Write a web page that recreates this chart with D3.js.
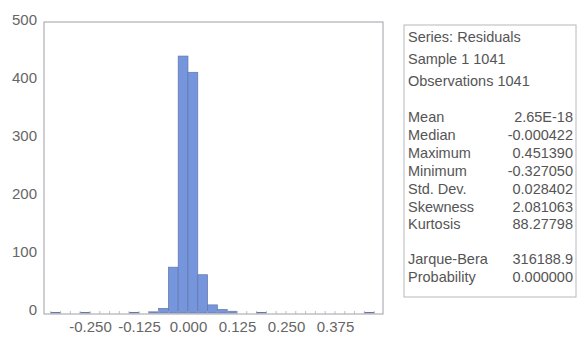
<!DOCTYPE html>
<html>
<head>
<meta charset="utf-8">
<script src="https://cdn.jsdelivr.net/npm/d3@7"></script>
<style>
  body { margin: 0; background: #fff; }
  svg { display: block; }
  text { font-family: "Liberation Sans", Arial, sans-serif; }
</style>
</head>
<body>
<svg id="chart" width="578" height="341"></svg>
<script>
// Histogram of residuals: left edge of each bin (width 0.025) and its count
const binStarts = [-0.350, -0.275, -0.150, -0.100, -0.075, -0.050, -0.025, 0.000, 0.025, 0.050, 0.075, 0.100, 0.175, 0.450];
const binCounts = [1, 1, 1, 2, 8, 79, 443, 415, 66, 14, 6, 3, 1, 1];
const binWidth = 0.025;

const xTicks = [-0.250, -0.125, 0.000, 0.125, 0.250, 0.375];
const yTicks = [0, 100, 200, 300, 400, 500];

// Summary statistics panel
const statHeader = ["Series: Residuals", "Sample 1 1041", "Observations 1041"];
const statNames = ["Mean", "Median", "Maximum", "Minimum", "Std. Dev.", "Skewness", "Kurtosis"];
const statValues = ["2.65E-18", "-0.000422", "0.451390", "-0.327050", "0.028402", "2.081063", "88.27798"];
const testNames = ["Jarque-Bera", "Probability"];
const testValues = ["316188.9", "0.000000"];

const svg = d3.select("#chart");
const plot = { left: 44, right: 383, top: 22, bottom: 314 };

const x = d3.scaleLinear().domain([-0.3673, 0.4975]).range([plot.left, plot.right]);
const y = d3.scaleLinear().domain([0, 500]).range([313, 23]);

// Bars
const bars = binStarts.map((s, i) => ({ x0: s, x1: s + binWidth, n: binCounts[i] }));
svg.append("g").selectAll("rect").data(bars).join("rect")
  .attr("x", d => x(d.x0))
  .attr("y", d => y(d.n))
  .attr("width", d => x(d.x1) - x(d.x0))
  .attr("height", d => y(0) - y(d.n))
  .attr("fill", "#7595dc")
  .attr("stroke", "#6676a6")
  .attr("stroke-width", 0.7);

// Frame
svg.append("rect")
  .attr("x", plot.left).attr("y", plot.top)
  .attr("width", plot.right - plot.left).attr("height", plot.bottom - plot.top)
  .attr("fill", "none").attr("stroke", "#a0a0a8").attr("stroke-width", 1);

// Y axis labels
const yAxis = d3.axisLeft(y).tickValues(yTicks).tickSize(0).tickPadding(7).tickFormat(d3.format("d"));
const gy = svg.append("g").attr("transform", `translate(${plot.left},0)`).call(yAxis);
gy.select(".domain").remove();
gy.selectAll("text").attr("font-size", 15).attr("fill", "#666").attr("dy", "0.1em")
  .attr("font-family", "'Liberation Sans', Arial, sans-serif");

// X axis labels (plain hyphen for negatives) with minor ticks every bin width
const fmt3 = d3.format(".3f");
const xAxis = d3.axisBottom(x).tickValues(xTicks).tickSize(0).tickPadding(7)
  .tickFormat(d => fmt3(d).replace("\u2212", "-"));
const gx = svg.append("g").attr("transform", `translate(0,${plot.bottom})`).call(xAxis);
gx.select(".domain").remove();
gx.selectAll("text").attr("font-size", 15).attr("fill", "#666")
  .attr("font-family", "'Liberation Sans', Arial, sans-serif");

const minor = d3.range(-14, 20).map(k => k * binWidth).filter(v => x(v) > plot.left + 1 && x(v) < plot.right - 1);
svg.append("g").selectAll("line").data(minor).join("line")
  .attr("x1", d => x(d)).attr("x2", d => x(d))
  .attr("y1", plot.bottom).attr("y2", plot.bottom - 3)
  .attr("stroke", "#b0b0b8").attr("stroke-width", 0.8);

// Statistics panel
const box = { left: 404, top: 25, right: 576, bottom: 297 };
svg.append("rect")
  .attr("x", box.left).attr("y", box.top)
  .attr("width", box.right - box.left).attr("height", box.bottom - box.top)
  .attr("fill", "#fff").attr("stroke", "#b8b8be").attr("stroke-width", 1);

const tx = 408, vx = 573, fs = 14.5, col = "#555";
const header = svg.append("g");
header.selectAll("text").data(statHeader).join("text")
  .attr("x", tx).attr("y", (d, i) => 42 + i * 22)
  .attr("font-size", fs).attr("fill", col).text(d => d);

const rows = svg.append("g");
statNames.forEach((n, i) => {
  const yy = 122 + i * 17.9;
  rows.append("text").attr("x", tx).attr("y", yy).attr("font-size", fs).attr("fill", col).text(n);
  rows.append("text").attr("x", vx).attr("y", yy).attr("font-size", fs).attr("fill", col)
    .attr("text-anchor", "end").text(statValues[i]);
});
testNames.forEach((n, i) => {
  const yy = 264 + i * 18;
  rows.append("text").attr("x", tx).attr("y", yy).attr("font-size", fs).attr("fill", col).text(n);
  rows.append("text").attr("x", vx).attr("y", yy).attr("font-size", fs).attr("fill", col)
    .attr("text-anchor", "end").text(testValues[i]);
});
</script>
</body>
</html>
